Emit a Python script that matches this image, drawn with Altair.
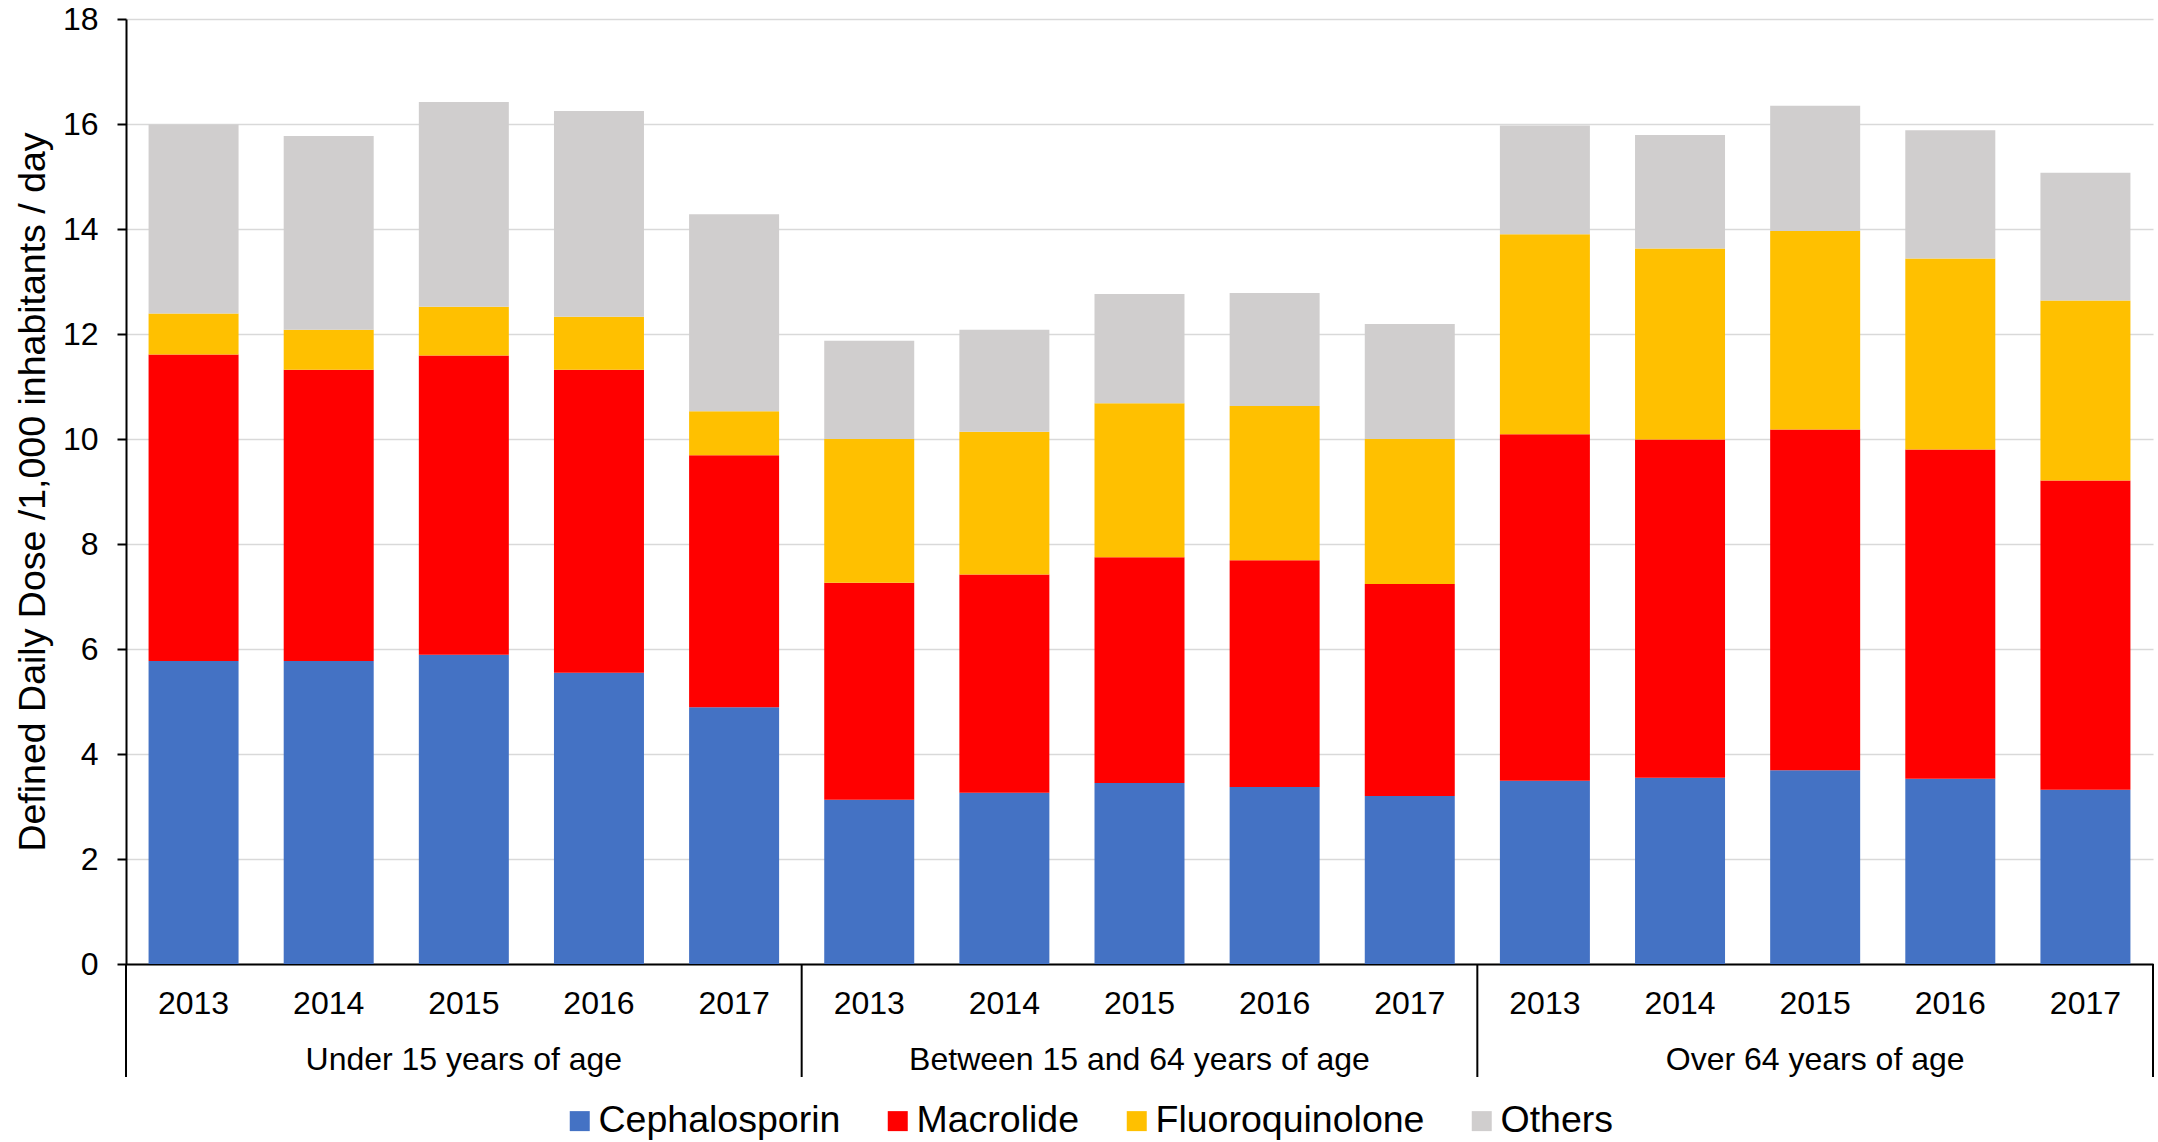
import altair as alt
import pandas as pd

# Age groups, years and antibiotic classes
groups = ["Under 15 years of age", "Between 15 and 64 years of age", "Over 64 years of age"]
years = ["2013", "2014", "2015", "2016", "2017"]
classes = ["Cephalosporin", "Macrolide", "Fluoroquinolone", "Others"]
colors = ["#4472C4", "#FF0000", "#FFC000", "#D0CECE"]

# DDD per 1,000 inhabitants per day, one value per group/year (15 values each)
cephalosporin = [5.77, 5.77, 5.89, 5.55, 4.89,
                 3.13, 3.26, 3.45, 3.37, 3.20,
                 3.49, 3.55, 3.69, 3.53, 3.32]
macrolide = [5.84, 5.55, 5.70, 5.77, 4.80,
             4.13, 4.16, 4.30, 4.32, 4.04,
             6.60, 6.44, 6.49, 6.27, 5.89]
fluoroquinolone = [0.78, 0.76, 0.93, 1.01, 0.84,
                   2.74, 2.72, 2.93, 2.94, 2.76,
                   3.81, 3.64, 3.78, 3.64, 3.43]
others = [3.60, 3.69, 3.90, 3.92, 3.75,
          1.87, 1.94, 2.08, 2.15, 2.19,
          2.07, 2.16, 2.39, 2.44, 2.43]

FONT = "Liberation Sans"
W, H = 2027, 945

keys = [f"{g}|{y}" for g in groups for y in years]
series = [cephalosporin, macrolide, fluoroquinolone, others]

rows = []
for ci, (cls, vals) in enumerate(zip(classes, series)):
    for k, v in zip(keys, vals):
        rows.append({"key": k, "class": cls, "value": v, "ord": ci})
df = pd.DataFrame(rows)

xscale = alt.Scale(domain=keys, paddingInner=0, paddingOuter=0)
xaxis = alt.Axis(
    title=None,
    labelExpr="split(datum.label, '|')[1]",
    labelFont=FONT, labelFontSize=32, labelColor="black",
    labelBaseline="alphabetic", labelPadding=49, labelAngle=0,
    ticks=False, domainColor="black", domainWidth=2, grid=False,
)
yaxis = alt.Axis(
    title="Defined Daily Dose /1,000 inhabitants / day",
    titleFont=FONT, titleFontSize=37.5, titleFontWeight="normal", titleColor="black",
    titlePadding=10,
    values=list(range(0, 19, 2)),
    labelFont=FONT, labelFontSize=32, labelColor="black", labelPadding=19,
    tickColor="black", tickWidth=2, tickSize=9,
    domainColor="black", domainWidth=2,
    gridColor="#D9D9D9", gridWidth=1.5,
)

bars = alt.Chart(df).mark_bar(width={"band": 0.666}).encode(
    x=alt.X("key:N", scale=xscale, axis=xaxis),
    y=alt.Y("value:Q", stack="zero", scale=alt.Scale(domain=[0, 18], nice=False), axis=yaxis),
    color=alt.Color(
        "class:N",
        scale=alt.Scale(domain=classes, range=colors),
        legend=alt.Legend(
            title=None, orient="none", direction="horizontal",
            legendX=435, legendY=1083,
            symbolType="square", symbolSize=400, symbolStrokeWidth=0,
            labelFont=FONT, labelFontSize=37.5, labelColor="black",
            labelOffset=0, columnPadding=38, labelLimit=0, padding=0,
        ),
    ),
    order=alt.Order("ord:Q", sort="ascending"),
)

# Vertical separators between the age groups, below the axis
first_df = pd.DataFrame({"key": [f"{g}|{years[0]}" for g in groups]})
last_df = pd.DataFrame({"key": [f"{groups[-1]}|{years[-1]}"]})
sep_left = alt.Chart(first_df).mark_rule(color="black", strokeWidth=2).encode(
    x=alt.X("key:N", bandPosition=0, scale=xscale, axis=xaxis),
    y=alt.value(H), y2=alt.value(H + 113),
)
sep_right = alt.Chart(last_df).mark_rule(color="black", strokeWidth=2).encode(
    x=alt.X("key:N", bandPosition=1, scale=xscale, axis=xaxis),
    y=alt.value(H), y2=alt.value(H + 113),
)

# Age group labels centred under each block of five years
grp_df = pd.DataFrame({"key": [f"{g}|{years[2]}" for g in groups], "label": groups})
grp_text = alt.Chart(grp_df).mark_text(
    font=FONT, fontSize=32, color="black", align="center", baseline="alphabetic",
).encode(
    x=alt.X("key:N", scale=xscale, axis=xaxis),
    y=alt.value(H + 106),
    text="label:N",
)

chart = alt.layer(bars, sep_left, sep_right, grp_text).properties(
    width=W, height=H,
    padding={"left": 126, "top": 19, "right": 5, "bottom": 178},
    autosize=alt.AutoSizeParams(type="none"),
    background="white",
).configure_view(stroke=None)

chart.save("out.html", embed_options={"renderer": "svg", "actions": False})
